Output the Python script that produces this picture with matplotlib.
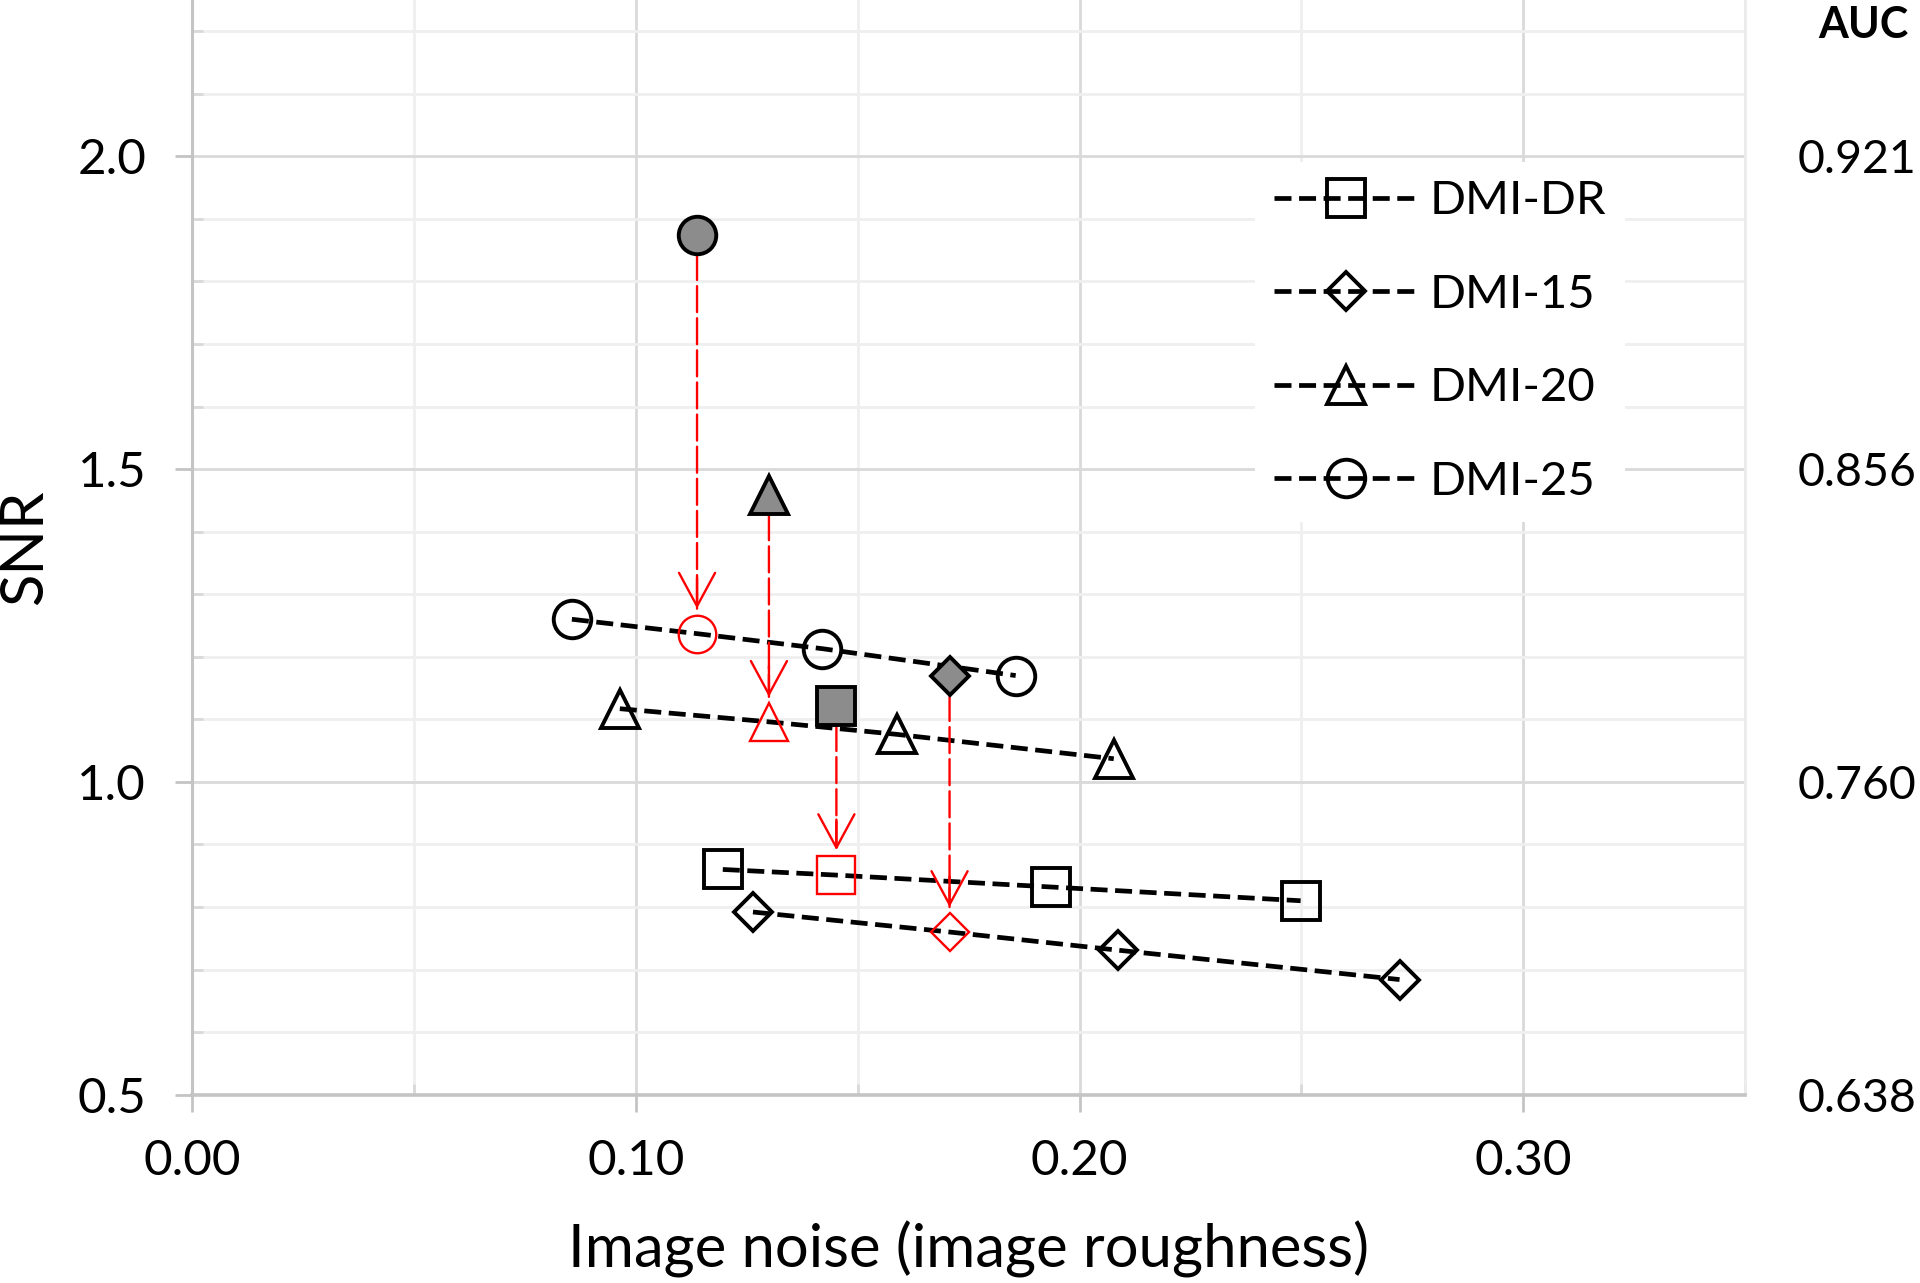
import matplotlib
matplotlib.use('Agg')
import matplotlib.pyplot as plt
from matplotlib.lines import Line2D
from matplotlib.ticker import MultipleLocator, FormatStrFormatter

plt.rcParams['font.family'] = ['Lato', 'DejaVu Sans']

# ---------------- data ----------------
series_names = ['DMI-DR', 'DMI-15', 'DMI-20', 'DMI-25']
series_markers = ['s', 'D', '^', 'o']

noise_dr = [0.1196, 0.1452, 0.1935, 0.2498]
snr_dr = [0.860, 0.851, 0.832, 0.810]
noise_15 = [0.1264, 0.1707, 0.2086, 0.2721]
snr_15 = [0.792, 0.760, 0.731, 0.684]
noise_20 = [0.0964, 0.1300, 0.1588, 0.2077]
snr_20 = [1.117, 1.096, 1.076, 1.037]
noise_25 = [0.0856, 0.1138, 0.1420, 0.1856]
snr_25 = [1.260, 1.237, 1.213, 1.170]
highlight_index = 1  # red (hollow) point in each series

# gray filled reference points (DR, 15, 20, 25)
ref_noise = [0.1452, 0.1707, 0.1300, 0.1138]
ref_snr = [1.122, 1.170, 1.459, 1.875]

snr_ticks = [0.5, 1.0, 1.5, 2.0]
auc_labels = ['0.638', '0.760', '0.856', '0.921']

noise_series = [noise_dr, noise_15, noise_20, noise_25]
snr_series = [snr_dr, snr_15, snr_20, snr_25]

# ---------------- style ----------------
ms_map = {'s': 27, 'D': 19.5, '^': 27, 'o': 27}
black_lw = 3.4
black_dash = (0, (3.6, 1.6))
red_dash = (0, (11, 2.6))
gray_fill = '#8c8c8c'
edge_w = 2.8

fig = plt.figure(figsize=(19.2, 12.83), dpi=100)
ax = fig.add_axes([0.100, 0.1468, 0.809, 0.8532])
ax.set_xlim(0, 0.35)
ax.set_ylim(0.5, 2.25)

ax.xaxis.set_major_locator(MultipleLocator(0.1))
ax.xaxis.set_minor_locator(MultipleLocator(0.05))
ax.yaxis.set_major_locator(MultipleLocator(0.5))
ax.yaxis.set_minor_locator(MultipleLocator(0.1))
ax.xaxis.set_major_formatter(FormatStrFormatter('%.2f'))
ax.yaxis.set_major_formatter(FormatStrFormatter('%.1f'))

ax.grid(which='major', color='#d9d9d9', lw=2.0)
ax.grid(which='minor', color='#efefef', lw=2.0)
ax.set_axisbelow(True)

ax.spines['top'].set_visible(False)
ax.spines['right'].set_color('#ececec')
ax.spines['right'].set_linewidth(2.0)
ax.spines['left'].set_color('#c4c4c4')
ax.spines['left'].set_linewidth(2.2)
ax.spines['bottom'].set_color('#c4c4c4')
ax.spines['bottom'].set_linewidth(2.6)

ax.tick_params(axis='both', which='major', direction='out', length=12, width=2.0,
               color='#c4c4c4', labelsize=35.5)
ax.tick_params(axis='y', which='major', pad=21)
ax.tick_params(axis='x', which='major', pad=20)
ax.tick_params(axis='both', which='minor', direction='in', length=8, width=2.0,
               color='#d9d9d9')

ax.set_xlabel('Image noise (image roughness)', fontsize=43, labelpad=27)
ax.set_ylabel('SNR', fontsize=43, labelpad=18)

# series lines and markers
for xs, ys, mk in zip(noise_series, snr_series, series_markers):
    ax.plot(xs, ys, color='black', lw=black_lw, ls=black_dash, zorder=3)
    others = [i for i in range(len(xs)) if i != highlight_index]
    ax.plot([xs[i] for i in others], [ys[i] for i in others], ls='none', marker=mk,
            ms=ms_map[mk], mfc='none', mec='black', mew=edge_w, zorder=4)
    ax.plot([xs[highlight_index]], [ys[highlight_index]], ls='none', marker=mk,
            ms=ms_map[mk], mfc='none', mec='red', mew=1.7, zorder=4)

# arrows from gray reference points to red points
for k, (xs, ys) in enumerate(zip(noise_series, snr_series)):
    xr, yr = xs[highlight_index], ys[highlight_index]
    xg, yg = ref_noise[k], ref_snr[k]
    ax.annotate('', xy=(xr, yr), xytext=(xg, yg),
                arrowprops=dict(arrowstyle='-', color='red', lw=1.7, ls=red_dash,
                                shrinkA=14, shrinkB=18), zorder=5)
    ax.annotate('', xy=(xr, yr), xytext=(0, 40), textcoords='offset points',
                arrowprops=dict(arrowstyle='->,head_length=2.4,head_width=1.3',
                                color='red', lw=1.7, shrinkA=0, shrinkB=18,
                                mutation_scale=10), zorder=5)

# gray filled reference markers
for xg, yg, mk in zip(ref_noise, ref_snr, series_markers):
    ax.plot([xg], [yg], ls='none', marker=mk, ms=ms_map[mk], mfc=gray_fill,
            mec='black', mew=edge_w, zorder=6)

# legend
handles = [Line2D([], [], color='black', lw=black_lw, ls=black_dash, marker=mk,
                  ms=ms_map[mk], mfc='none', mec='black', mew=edge_w)
           for mk in series_markers]
leg = ax.legend(handles, series_names, loc='upper left', bbox_to_anchor=(0.669, 0.874),
                fontsize=34, frameon=True, facecolor='white', edgecolor='none',
                framealpha=1, fancybox=False, handlelength=3.05, handletextpad=0.25,
                labelspacing=1.09, borderpad=0.4)
leg.set_zorder(10)

# right axis with AUC values
ax2 = ax.twinx()
ax2.set_ylim(ax.get_ylim())
ax2.set_yticks(snr_ticks)
ax2.set_yticklabels(auc_labels)
ax2.tick_params(axis='y', length=0, pad=38, labelsize=33.5)
for s in ax2.spines.values():
    s.set_visible(False)

fig.text(1818 / 1920, 1 - 25 / 1283, 'AUC', fontsize=31, fontweight='bold',
         ha='left', va='center')

fig.savefig('out.png', dpi=100)
